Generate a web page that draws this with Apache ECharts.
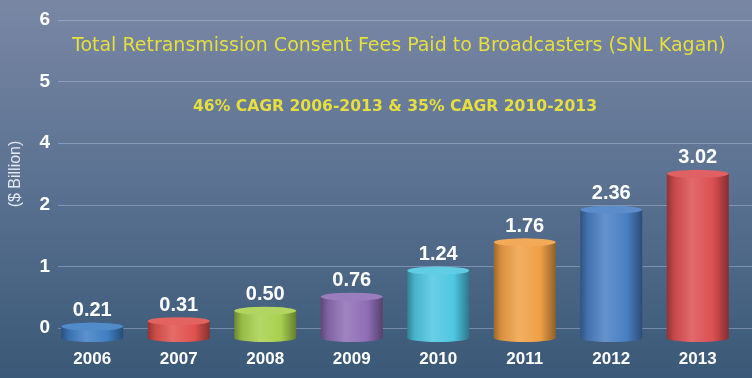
<!DOCTYPE html>
<html>
<head>
<meta charset="utf-8">
<script src="https://cdn.jsdelivr.net/npm/echarts@6/dist/echarts.min.js"></script>
<style>
  html, body { margin: 0; padding: 0; }
  #chart { width: 752px; height: 378px; }
</style>
</head>
<body>
<div id="chart"></div>
<script>
// data
const years = ['2006', '2007', '2008', '2009', '2010', '2011', '2012', '2013'];
const fees = [0.21, 0.31, 0.50, 0.76, 1.24, 1.76, 2.36, 3.02];
const barColors = ['#3f7ec3', '#e0524f', '#a8d04e', '#8f6eb6', '#4fc7e2', '#f0a046', '#4a7fc3', '#dc4f52'];
// the slide's axis labels skip 3
const tickLabels = ['0', '1', '2', '4', '5', '6'];

function shade(hex, f) {
  const n = parseInt(hex.slice(1), 16);
  let r = (n >> 16) & 255, g = (n >> 8) & 255, b = n & 255;
  if (f < 0) {
    r = r * (1 + f); g = g * (1 + f); b = b * (1 + f);
  } else {
    r = r + (255 - r) * f; g = g + (255 - g) * f; b = b + (255 - b) * f;
  }
  return 'rgb(' + Math.round(r) + ',' + Math.round(g) + ',' + Math.round(b) + ')';
}

function cylinder(c) {
  return new echarts.graphic.LinearGradient(0, 0, 1, 0, [
    { offset: 0, color: shade(c, -0.35) },
    { offset: 0.12, color: shade(c, -0.1) },
    { offset: 0.4, color: shade(c, 0.15) },
    { offset: 0.75, color: c },
    { offset: 1, color: shade(c, -0.4) }
  ]);
}

const chart = echarts.init(document.getElementById('chart'));

const option = {
  animation: false,
  backgroundColor: new echarts.graphic.LinearGradient(0, 0, 0, 1, [
    { offset: 0, color: '#7987a4' },
    { offset: 0.5, color: '#5a7191' },
    { offset: 1, color: '#3a5877' }
  ]),
  title: [
    {
      text: 'Total Retransmission Consent Fees Paid to Broadcasters (SNL Kagan)',
      left: 67,
      top: 32,
      textStyle: { color: '#e6df3e', fontSize: 19, fontWeight: 'normal', fontFamily: 'DejaVu Sans' }
    },
    {
      text: '46% CAGR 2006-2013 & 35% CAGR 2010-2013',
      left: 188,
      top: 94,
      textStyle: { color: '#e6df3e', fontSize: 15.6, fontWeight: 'bold', fontFamily: 'DejaVu Sans' }
    }
  ],
  grid: [
    { left: 58, right: 0, top: 20, bottom: 50 },
    { left: 49, right: 11, top: 20, bottom: 40 }
  ],
  xAxis: [
    { type: 'value', gridIndex: 0, show: false },
    {
      type: 'category',
      gridIndex: 1,
      data: years,
      axisLine: { show: false },
      axisTick: { show: false },
      axisLabel: {
        color: '#ffffff',
        fontSize: 17,
        fontWeight: 'bold',
        fontFamily: 'Liberation Sans',
        margin: 13
      }
    }
  ],
  yAxis: [
    {
      type: 'value',
      gridIndex: 0,
      min: 0,
      max: 5,
      interval: 1,
      name: '($ Billion)',
      nameLocation: 'middle',
      nameRotate: 90,
      nameGap: 34,
      nameTextStyle: { color: '#e4e8ef', fontSize: 16, fontFamily: 'Liberation Sans' },
      axisLine: { show: false },
      axisTick: { show: false },
      axisLabel: {
        color: '#ffffff',
        fontSize: 19,
        fontWeight: 'bold',
        fontFamily: 'Liberation Sans',
        margin: 8,
        formatter: (v) => tickLabels[v]
      },
      splitLine: { lineStyle: { color: 'rgba(210,222,240,0.35)', width: 1 } }
    },
    {
      type: 'value',
      gridIndex: 1,
      min: 0,
      max: 5.85,
      show: false,
      splitLine: { show: false }
    }
  ],
  series: [
    {
      type: 'pictorialBar',
      xAxisIndex: 1,
      yAxisIndex: 1,
      symbol: 'circle',
      symbolSize: [62, 8],
      symbolPosition: 'start',
      symbolOffset: [0, '50%'],
      z: 1,
      data: fees.map((v, i) => ({ value: v, itemStyle: { color: cylinder(barColors[i]) } }))
    },
    {
      type: 'bar',
      xAxisIndex: 1,
      yAxisIndex: 1,
      barWidth: 62,
      z: 2,
      data: fees.map((v, i) => ({ value: v, itemStyle: { color: cylinder(barColors[i]) } })),
      label: {
        show: true,
        position: 'top',
        distance: 6,
        color: '#ffffff',
        fontSize: 20,
        fontWeight: 'bold',
        fontFamily: 'Liberation Sans',
        formatter: (p) => p.value.toFixed(2)
      }
    },
    {
      type: 'pictorialBar',
      xAxisIndex: 1,
      yAxisIndex: 1,
      symbol: 'circle',
      symbolSize: [62, 8],
      symbolPosition: 'end',
      symbolOffset: [0, '-50%'],
      z: 3,
      data: fees.map((v, i) => ({ value: v, itemStyle: { color: shade(barColors[i], 0.1) } }))
    }
  ]
};

chart.setOption(option);
window.addEventListener('resize', () => chart.resize());
</script>
</body>
</html>
